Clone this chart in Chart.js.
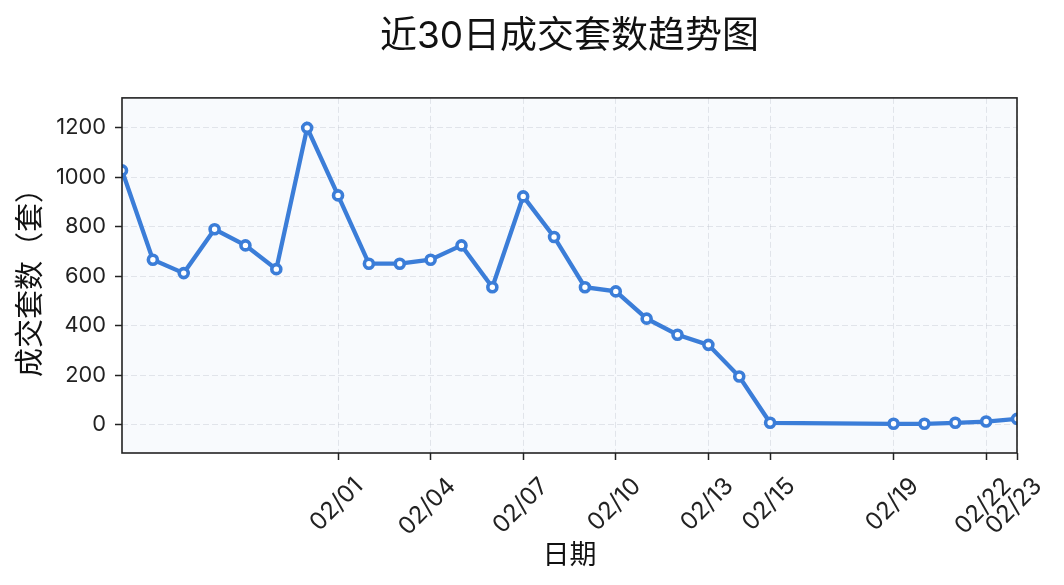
<!DOCTYPE html>
<html><head><meta charset="utf-8">
<script src="https://cdn.jsdelivr.net/npm/chart.js@4.4.1/dist/chart.umd.min.js"></script>
<style>html,body{margin:0;padding:0;background:#fff;}#wrap{width:1064px;height:585px;}</style>
</head><body><div id="wrap"><canvas id="c" width="1064" height="585"></canvas></div>
<script>
const dates = ["01/25","01/26","01/27","01/28","01/29","01/30","01/31","02/01","02/02","02/03","02/04","02/05","02/06","02/07","02/08","02/09","02/10","02/11","02/12","02/13","02/14","02/15","02/19","02/20","02/21","02/22","02/23"];
const counts = [1027,666,612,789,724,628,1199,926,650,650,666,724,555,922,758,555,538,428,363,322,194,7,3,3,7,12,23];
const xTickLabels = ["02/01","02/04","02/07","02/10","02/13","02/15","02/19","02/22","02/23"];
const yTickValues = [0,200,400,600,800,1000,1200];
const chartTitle = "近30日成交套数趋势图";
const xTitle = "日期";
const yTitle = "成交套数（套）";

const FAMILY = "Inter, 'Noto Sans CJK SC', sans-serif";
function toDay(s){const p=s.split('/').map(Number);return Math.round(Date.UTC(2025,p[0]-1,p[1])/86400000);}
function fromDay(v){const d=new Date(v*86400000);return String(d.getUTCMonth()+1).padStart(2,'0')+'/'+String(d.getUTCDate()).padStart(2,'0');}
const points = dates.map((d,i)=>({x:toDay(d),y:counts[i]}));

const bgPlugin = {id:'bg',beforeDraw(chart){const a=chart.chartArea,ctx=chart.ctx;ctx.save();ctx.fillStyle='#f8fafd';ctx.fillRect(a.left,a.top,a.right-a.left,a.bottom-a.top);ctx.restore();}};
const framePlugin = {id:'frame',afterDraw(chart){const a=chart.chartArea,ctx=chart.ctx;ctx.save();ctx.strokeStyle='#222';ctx.lineWidth=1.6;ctx.strokeRect(a.left,a.top,a.right-a.left,a.bottom-a.top);ctx.restore();}};

new Chart(document.getElementById('c'),{
  type:'line',
  data:{datasets:[{data:points,borderColor:'#3b7dd8',borderWidth:4.3,pointRadius:4.5,pointBorderWidth:3.6,pointBackgroundColor:'#ffffff',pointBorderColor:'#3b7dd8',tension:0,clip:0}]},
  options:{
    responsive:false,animation:false,devicePixelRatio:1,
    layout:{padding:{left:0,right:47,top:0,bottom:0}},
    plugins:{legend:{display:false},tooltip:{enabled:false},
      title:{display:true,fullSize:false,text:chartTitle,color:'#111',font:{family:FAMILY,size:37,weight:'normal'},padding:{top:14.5,bottom:39}}},
    scales:{
      x:{type:'linear',min:toDay(dates[0]),max:toDay(dates[dates.length-1]),
        afterBuildTicks(s){s.ticks=xTickLabels.map(t=>({value:toDay(t)}));},
        afterFit(s){s.height=132;s.paddingLeft=0;s.paddingRight=0;},
        ticks:{autoSkip:false,maxRotation:45,minRotation:45,callback:v=>fromDay(v),color:'#222',font:{family:FAMILY,size:24},padding:12,labelOffset:21},
        grid:{color:'rgba(190,196,205,0.4)',lineWidth:1,tickLength:7,tickColor:'#222',tickWidth:1.5},
        border:{display:false,dash:[6,3]},
        title:{display:true,text:xTitle,color:'#111',font:{family:FAMILY,size:27},padding:{top:0,bottom:13}}},
      y:{min:-115,max:1320,
        afterBuildTicks(s){s.ticks=yTickValues.map(v=>({value:v}));},
        afterFit(s){s.width=122;s.paddingTop=0;s.paddingBottom=0;},
        ticks:{color:'#222',font:{family:FAMILY,size:21.8},padding:9,callback:v=>String(v)},
        grid:{color:'rgba(190,196,205,0.4)',lineWidth:1,tickLength:7,tickColor:'#222',tickWidth:1.5},
        border:{display:false,dash:[6,3]},
        title:{display:true,text:yTitle,color:'#111',font:{family:FAMILY,size:29},padding:{top:14,bottom:0}}}
    }
  },
  plugins:[bgPlugin,framePlugin]
});
</script></body></html>
